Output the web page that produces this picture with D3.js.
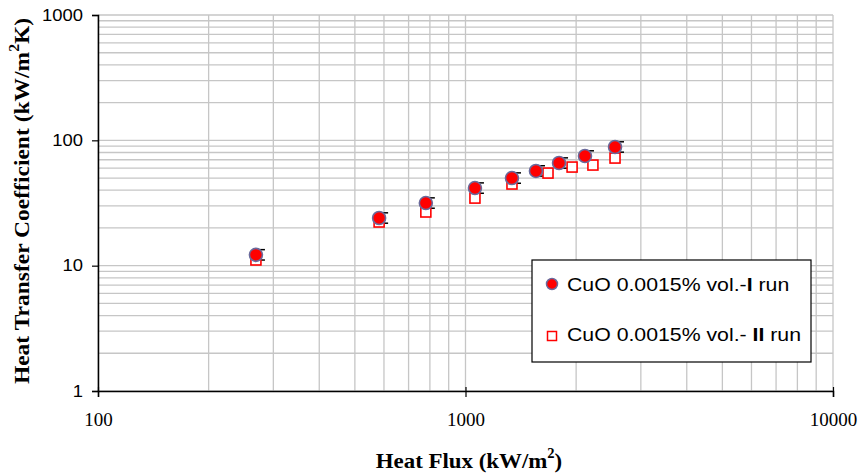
<!DOCTYPE html>
<html>
<head>
<meta charset="utf-8">
<script src="https://cdn.jsdelivr.net/npm/d3@7"></script>
<style>
  body { margin: 0; background: #fff; }
  svg { display: block; }
</style>
</head>
<body>
<svg width="858" height="475"></svg>
<script>
// run I (circles)
let fluxI = [269, 582, 780, 1061, 1338, 1555, 1797, 2114, 2552]
let htcI = [12.2, 24, 31.6, 41.6, 50, 57, 65.9, 75, 88.5]
// run II (squares)
let fluxII = [269, 582, 780, 1061, 1338, 1677, 1950, 2222, 2552]
let htcII = [11.1, 22.3, 26.8, 34.6, 44.8, 54.8, 61.2, 63.5, 72.2]
let xTicks = [100, 1000, 10000]
let yTicks = [1, 10, 100, 1000]
let legendNames = ['CuO 0.0015% vol.-', 'CuO 0.0015% vol.- ']
let legendRuns = ['I', 'II']

let plotL = 98, plotR = 833, plotT = 15, plotB = 391

let svg = d3.select('svg')

let x = d3.scaleLog().domain([100, 10000]).range([plotL, plotR])
let y = d3.scaleLog().domain([1, 1000]).range([plotB, plotT])

// grid lines, minor and major
let xGrid = x.ticks()
let yGrid = y.ticks()

svg.append('g')
    .selectAll('line')
    .data(xGrid)
    .enter()
    .append('line')
    .attr('x1', d => x(d))
    .attr('x2', d => x(d))
    .attr('y1', plotT)
    .attr('y2', plotB)
    .attr('stroke', '#c6c6c6')
    .attr('stroke-width', 1.3)

svg.append('g')
    .selectAll('line')
    .data(yGrid)
    .enter()
    .append('line')
    .attr('x1', plotL)
    .attr('x2', plotR)
    .attr('y1', d => y(d))
    .attr('y2', d => y(d))
    .attr('stroke', '#c6c6c6')
    .attr('stroke-width', 1.3)

// axes
let xAxis = svg.append('g')
    .attr('transform', 'translate(0,' + plotB + ')')
    .call(d3.axisBottom(x).tickValues(xTicks).tickSize(6).tickFormat(d3.format('d')))
xAxis.select('.domain').attr('stroke', '#000').attr('stroke-width', 1.5)
xAxis.selectAll('.tick line').attr('stroke', '#000').attr('stroke-width', 1.2).attr('y1', -4)
xAxis.selectAll('.tick text')
    .attr('font-family', '"Liberation Serif", "Times New Roman", serif')
    .attr('font-size', 19)
    .attr('fill', '#000')
    .attr('dy', null)
    .attr('y', 35)

let ySx = 1.15
let yAxis = svg.append('g')
    .attr('transform', 'translate(' + plotL + ',0)')
    .call(d3.axisLeft(y).tickValues(yTicks).tickSize(6).tickFormat(d3.format('d')))
yAxis.select('.domain').attr('stroke', '#000').attr('stroke-width', 1.5)
yAxis.selectAll('.tick line').attr('stroke', '#000').attr('stroke-width', 1.2)
yAxis.selectAll('.tick text')
    .attr('font-family', '"Liberation Sans", Arial, sans-serif')
    .attr('font-size', 16)
    .attr('fill', '#000')
    .attr('x', -15 / ySx)
    .attr('transform', 'scale(' + ySx + ',1)')

// axis titles
let xTitle = svg.append('text')
    .attr('transform', 'translate(469,468) scale(1.04,1)')
    .attr('text-anchor', 'middle')
    .attr('font-family', '"Liberation Serif", "Times New Roman", serif')
    .attr('font-weight', 'bold')
    .attr('font-size', 22)
xTitle.append('tspan').text('Heat Flux (kW/m')
xTitle.append('tspan').text('2').attr('dy', -10).attr('font-size', 14)
xTitle.append('tspan').text(')').attr('dy', 10)

let yTitle = svg.append('text')
    .attr('transform', 'translate(29,201) rotate(-90) scale(1.12,1)')
    .attr('text-anchor', 'middle')
    .attr('font-family', '"Liberation Serif", "Times New Roman", serif')
    .attr('font-weight', 'bold')
    .attr('font-size', 21)
yTitle.append('tspan').text('Heat Transfer Coefficient (kW/m')
yTitle.append('tspan').text('2').attr('dy', -10).attr('font-size', 14)
yTitle.append('tspan').text('K)').attr('dy', 10)

// data
let runI = fluxI.map((v, i) => ({ x: v, y: htcI[i] }))
let runII = fluxII.map((v, i) => ({ x: v, y: htcII[i] }))

// error bar caps of run I
let err = svg.append('g')
err.selectAll('line.top')
    .data(runI)
    .enter()
    .append('line')
    .attr('class', 'top')
    .attr('x1', d => x(d.x) + 2)
    .attr('x2', d => x(d.x) + 9)
    .attr('y1', d => y(d.y * 1.1))
    .attr('y2', d => y(d.y * 1.1))
    .attr('stroke', '#000')
    .attr('stroke-width', 1.5)
err.selectAll('line.bot')
    .data(runI)
    .enter()
    .append('line')
    .attr('class', 'bot')
    .attr('x1', d => x(d.x) + 2)
    .attr('x2', d => x(d.x) + 9)
    .attr('y1', d => y(d.y / 1.1))
    .attr('y2', d => y(d.y / 1.1))
    .attr('stroke', '#000')
    .attr('stroke-width', 1.5)

svg.append('g')
    .selectAll('rect')
    .data(runII)
    .enter()
    .append('rect')
    .attr('x', d => x(d.x) - 5)
    .attr('y', d => y(d.y) - 5)
    .attr('width', 10)
    .attr('height', 10)
    .attr('fill', '#fff')
    .attr('stroke', '#ff0000')
    .attr('stroke-width', 1.6)

svg.append('g')
    .selectAll('circle')
    .data(runI)
    .enter()
    .append('circle')
    .attr('cx', d => x(d.x))
    .attr('cy', d => y(d.y))
    .attr('r', 6.5)
    .attr('fill', '#ff0000')
    .attr('stroke', '#6a6a9c')
    .attr('stroke-width', 1.6)

// legend
let legend = svg.append('g').attr('transform', 'translate(532,260)')
legend.append('rect')
    .attr('width', 279)
    .attr('height', 102)
    .attr('fill', '#fff')
    .attr('stroke', '#000')
    .attr('stroke-width', 1.2)
legend.append('circle')
    .attr('cx', 20)
    .attr('cy', 24)
    .attr('r', 5.5)
    .attr('fill', '#ff0000')
    .attr('stroke', '#6a6a9c')
    .attr('stroke-width', 1.5)
legend.append('rect')
    .attr('x', 15.5)
    .attr('y', 71.5)
    .attr('width', 9)
    .attr('height', 9)
    .attr('fill', '#fff')
    .attr('stroke', '#ff0000')
    .attr('stroke-width', 1.5)

legend.selectAll('text')
    .data(legendNames)
    .enter()
    .append('text')
    .attr('transform', (d, i) => 'translate(35,' + (31 + 50 * i) + ') scale(1.12,1)')
    .attr('font-family', '"Liberation Sans", Arial, sans-serif')
    .attr('font-size', 19)
    .each(function(d, i) {
        let t = d3.select(this)
        t.append('tspan').text(d)
        t.append('tspan').text(legendRuns[i]).attr('font-weight', 'bold')
        t.append('tspan').text(' run')
    })
</script>
</body>
</html>
